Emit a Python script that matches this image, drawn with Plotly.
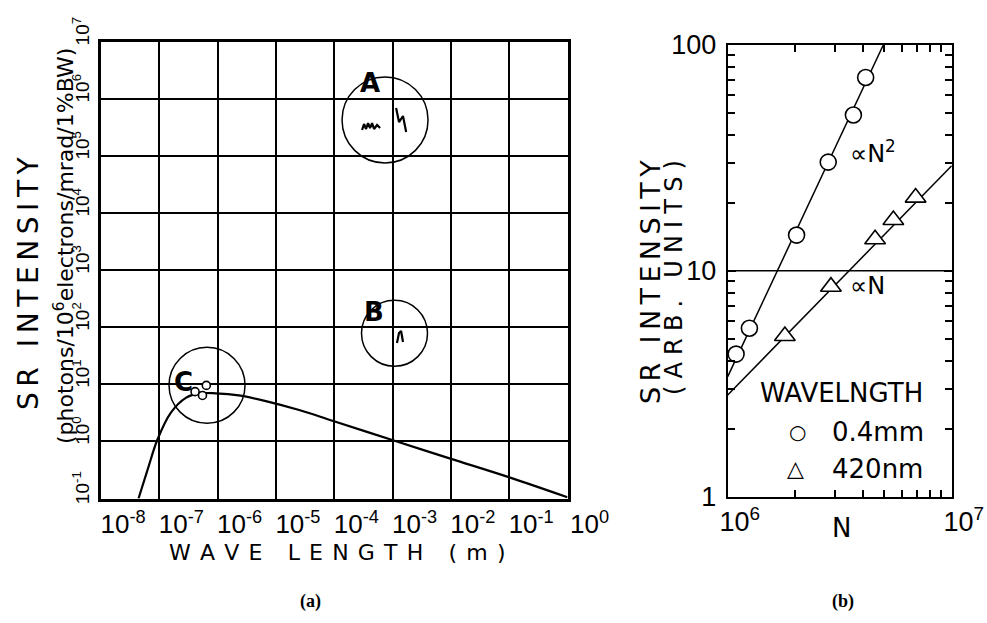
import math
import plotly.graph_objects as go

# ---------------- data: panel (a) ----------------
wl_curve = [4.4e-8, 6.3e-8, 9.3e-8, 1.58e-7, 2.85e-7, 4.8e-7, 9.3e-7, 2.3e-6,
            6.7e-6, 2.5e-5, 9.6e-5, 1.05e-3, 9.8e-3, 9.8e-2, 1.0]
int_curve = [0.1, 0.32, 1.08, 3.2, 5.8, 6.95, 6.95, 6.4,
             5.1, 3.55, 2.28, 1.04, 0.50, 0.237, 0.105]

wl_c_pts = [4.1e-7, 5.5e-7, 6.4e-7]
int_c_pts = [7.45, 6.4, 9.6]

wl_a1 = [3.0e-4, 3.24e-4, 3.51e-4, 3.80e-4, 4.11e-4, 4.45e-4, 4.82e-4, 5.42e-4, 6.11e-4]
int_a1 = [2.87e5, 3.66e5, 2.99e5, 3.80e5, 3.11e5, 3.80e5, 2.99e5, 3.51e5, 3.11e5]
wl_a2 = [1.15e-3, 1.29e-3, 1.51e-3, 1.71e-3]
int_a2 = [6.97e5, 3.96e5, 5.05e5, 2.65e5]
wl_b = [1.19e-3, 1.29e-3, 1.40e-3, 1.51e-3]
int_b = [53.1, 79.4, 86.1, 55.2]

region_names = ["A", "B", "C"]
region_wl = [7.43e-4, 1.08e-3, 6.58e-7]
region_int = [4.30e5, 78.5, 9.64]
region_radius = [43, 33, 38]
label_wl = [4.03e-4, 4.82e-4, 2.65e-7]
label_int = [1.95e6, 185.0, 11.0]

a_xrange = [-8, 0]
a_yrange = [-1, 7]
a_xtick_vals = [1e-8, 1e-7, 1e-6, 1e-5, 1e-4, 1e-3, 1e-2, 1e-1, 1e0]
a_xtick_text = ["10<sup>-8</sup>", "10<sup>-7</sup>", "10<sup>-6</sup>", "10<sup>-5</sup>",
                "10<sup>-4</sup>", "10<sup>-3</sup>", "10<sup>-2</sup>", "10<sup>-1</sup>",
                "10<sup>0</sup>"]
a_ytick_vals = [1e-1, 1e0, 1e1, 1e2, 1e3, 1e4, 1e5, 1e6, 1e7]
a_ytick_text = ["10<sup>-1</sup>", "10<sup>0</sup>", "10<sup>1</sup>", "10<sup>2</sup>",
                "10<sup>3</sup>", "10<sup>4</sup>", "10<sup>5</sup>", "10<sup>6</sup>",
                "10<sup>7</sup>"]

# ---------------- data: panel (b) ----------------
n_mm = [1.09e6, 1.25e6, 2.03e6, 2.81e6, 3.64e6, 4.13e6]
i_mm = [4.28, 5.57, 14.4, 30.3, 49.0, 71.8]
n_nm = [1.80e6, 2.89e6, 4.55e6, 5.49e6, 6.90e6]
i_nm = [5.15, 8.51, 13.8, 16.8, 21.1]
fit_n2_x = [1e6, 4.95e6]
fit_n2_y = [3.4, 100]
fit_n1_x = [1e6, 1e7]
fit_n1_y = [2.82, 29.2]

b_xtick_vals = [1e6, 1e7]
b_xtick_text = ["10<sup>6</sup>", "10<sup>7</sup>"]
b_xminor_vals = [2e6, 3e6, 4e6, 5e6, 6e6, 7e6, 8e6, 9e6]
b_ytick_vals = [1, 10, 100]
b_ytick_text = ["1", "10", "100"]
b_yminor_vals = [2, 3, 4, 5, 6, 7, 8, 9, 20, 30, 40, 50, 60, 70, 80, 90]

series_names = ["0.4mm", "420nm"]

TICKFONT = "Liberation Sans Narrow, Liberation Sans, Arial, sans-serif"
TITLEFONT = "DejaVu Sans, Verdana, sans-serif"
HS = "\u200a"  # hair space for letter spacing
NB = "\u00a0"


def spaced(s, sep=HS + HS):
    return sep.join(list(s))


fig = go.Figure()

# panel (a)
fig.add_trace(go.Scatter(x=wl_curve, y=int_curve, mode="lines", line=dict(color="black", width=2.2, shape="spline"),
                         xaxis="x", yaxis="y", showlegend=False, hoverinfo="skip"))
for wx, wy in [(wl_a1, int_a1), (wl_a2, int_a2), (wl_b, int_b)]:
    fig.add_trace(go.Scatter(x=wx, y=wy, mode="lines", line=dict(color="black", width=2.2),
                             xaxis="x", yaxis="y", showlegend=False, hoverinfo="skip"))
fig.add_trace(go.Scatter(x=wl_c_pts, y=int_c_pts, mode="markers",
                         marker=dict(symbol="circle", size=8, color="white", line=dict(color="black", width=1.6)),
                         xaxis="x", yaxis="y", showlegend=False))

# panel (b)
fig.add_trace(go.Scatter(x=fit_n2_x, y=fit_n2_y, mode="lines", line=dict(color="black", width=1.5),
                         xaxis="x2", yaxis="y2", showlegend=False, hoverinfo="skip"))
fig.add_trace(go.Scatter(x=fit_n1_x, y=fit_n1_y, mode="lines", line=dict(color="black", width=1.5),
                         xaxis="x2", yaxis="y2", showlegend=False, hoverinfo="skip"))
fig.add_trace(go.Scatter(x=n_mm, y=i_mm, mode="markers", name=series_names[0],
                         marker=dict(symbol="circle", size=16, color="white", line=dict(color="black", width=1.6)),
                         xaxis="x2", yaxis="y2", showlegend=False))
fig.add_trace(go.Scatter(x=n_nm, y=i_nm, mode="markers", name=series_names[1],
                         marker=dict(symbol="triangle-up", size=18, color="white", line=dict(color="black", width=1.6)),
                         xaxis="x2", yaxis="y2", showlegend=False))

shapes = []
for wl, it, r in zip(region_wl, region_int, region_radius):
    fx = (math.log10(wl) - a_xrange[0]) / (a_xrange[1] - a_xrange[0])
    fy = (math.log10(it) - a_yrange[0]) / (a_yrange[1] - a_yrange[0])
    shapes.append(dict(type="circle", xref="x domain", yref="y domain", xsizemode="pixel", ysizemode="pixel",
                       xanchor=fx, yanchor=fy, x0=-r, x1=r, y0=-r, y1=r,
                       line=dict(color="black", width=1.5)))
# horizontal line at 10 in panel (b)
shapes.append(dict(type="line", xref="x2 domain", yref="y2", x0=0, x1=1, y0=10, y1=10,
                   line=dict(color="black", width=1.5)))

annotations = []
for name, lx, ly in zip(region_names, label_wl, label_int):
    annotations.append(dict(x=math.log10(lx), y=math.log10(ly), xref="x", yref="y", text="<b>" + name + "</b>",
                            showarrow=False, font=dict(family=TITLEFONT, size=26, color="black"),
                            xanchor="center", yanchor="middle"))

# axis titles panel (a)
annotations.append(dict(x=28 / 987, y=1 - 283 / 623, xref="paper", yref="paper",
                        text=spaced("SR INTENSITY"), textangle=-90, showarrow=False,
                        font=dict(family=TITLEFONT, size=28, color="black"), xanchor="center", yanchor="middle"))
annotations.append(dict(x=64 / 987, y=1 - 246 / 623, xref="paper", yref="paper",
                        text="(photons/10<sup>6</sup>electrons/mrad/1%BW)", textangle=-90, showarrow=False,
                        font=dict(family=TITLEFONT, size=22, color="black"), xanchor="center", yanchor="middle"))
annotations.append(dict(x=337 / 987, y=1 - 552 / 623, xref="paper", yref="paper",
                        text=(NB + HS).join(["W", "A", "V", "E", NB, "L", "E", "N", "G", "T", "H", NB, "(", "m", ")"]),
                        showarrow=False, font=dict(family=TITLEFONT, size=22, color="black"),
                        xanchor="center", yanchor="middle"))

# axis titles panel (b)
annotations.append(dict(x=650 / 987, y=1 - 282 / 623, xref="paper", yref="paper",
                        text=spaced("SR INTENSITY"), textangle=-90, showarrow=False,
                        font=dict(family=TITLEFONT, size=27, color="black"), xanchor="center", yanchor="middle"))
annotations.append(dict(x=674 / 987, y=1 - 278 / 623, xref="paper", yref="paper",
                        text=spaced("(ARB. UNITS)", HS * 3), textangle=-90, showarrow=False,
                        font=dict(family=TITLEFONT, size=24, color="black"), xanchor="center", yanchor="middle"))
annotations.append(dict(x=841 / 987, y=1 - 528 / 623, xref="paper", yref="paper", text="N",
                        showarrow=False, font=dict(family=TITLEFONT, size=26, color="black"),
                        xanchor="center", yanchor="middle"))

# proportionality labels
annotations.append(dict(x=6.537, y=1.527, xref="x2", yref="y2", text="\u221dN<sup>2</sup>", showarrow=False,
                        font=dict(family=TITLEFONT, size=24, color="black"), xanchor="left", yanchor="middle"))
annotations.append(dict(x=6.537, y=0.933, xref="x2", yref="y2", text="\u221dN", showarrow=False,
                        font=dict(family=TITLEFONT, size=24, color="black"), xanchor="left", yanchor="middle"))

# legend (drawn as text)
annotations.append(dict(x=758 / 987, y=1 - 393 / 623, xref="paper", yref="paper", text="WAVELNGTH",
                        showarrow=False, font=dict(family=TITLEFONT, size=26, color="black"),
                        xanchor="left", yanchor="middle"))
annotations.append(dict(x=797 / 987, y=1 - 432 / 623, xref="paper", yref="paper", text="\u25cb",
                        showarrow=False, font=dict(family=TITLEFONT, size=20, color="black"),
                        xanchor="center", yanchor="middle"))
annotations.append(dict(x=830 / 987, y=1 - 432 / 623, xref="paper", yref="paper", text=series_names[0],
                        showarrow=False, font=dict(family=TITLEFONT, size=26, color="black"),
                        xanchor="left", yanchor="middle"))
annotations.append(dict(x=795 / 987, y=1 - 469 / 623, xref="paper", yref="paper", text="\u25b3",
                        showarrow=False, font=dict(family=TITLEFONT, size=22, color="black"),
                        xanchor="center", yanchor="middle"))
annotations.append(dict(x=830 / 987, y=1 - 469 / 623, xref="paper", yref="paper", text=series_names[1],
                        showarrow=False, font=dict(family=TITLEFONT, size=26, color="black"),
                        xanchor="left", yanchor="middle"))

# panel captions
annotations.append(dict(x=310 / 987, y=1 - 601 / 623, xref="paper", yref="paper", text="<b>(a)</b>",
                        showarrow=False, font=dict(family="Liberation Serif, DejaVu Serif, serif", size=18, color="black"),
                        xanchor="center", yanchor="middle"))
annotations.append(dict(x=843 / 987, y=1 - 601 / 623, xref="paper", yref="paper", text="<b>(b)</b>",
                        showarrow=False, font=dict(family="Liberation Serif, DejaVu Serif, serif", size=18, color="black"),
                        xanchor="center", yanchor="middle"))

fig.update_layout(
    width=987, height=623,
    margin=dict(l=0, r=0, t=0, b=0, pad=0, autoexpand=False),
    paper_bgcolor="white", plot_bgcolor="white",
    showlegend=False,
    shapes=shapes, annotations=annotations,
    xaxis=dict(type="log", range=a_xrange, domain=[101 / 987, 567.5 / 987], anchor="y", automargin=False,
               tickvals=a_xtick_vals, ticktext=a_xtick_text, ticks="", showgrid=True, tickangle=0,
               gridcolor="black", gridwidth=2.2, showline=True, linecolor="black", linewidth=2.5, mirror=True,
               tickfont=dict(family=TICKFONT, size=26, color="black"), ticklabelshift=22, ticklabelstandoff=1,
               zeroline=False),
    yaxis=dict(type="log", range=a_yrange, domain=[(623 - 498.5) / 623, (623 - 42) / 623], anchor="x",
               automargin=False,
               tickvals=a_ytick_vals, ticktext=a_ytick_text, ticks="", showgrid=True, tickangle=-90,
               gridcolor="black", gridwidth=2.2, showline=True, linecolor="black", linewidth=2.5, mirror=True,
               tickfont=dict(family=TICKFONT, size=19, color="black"), ticklabelshift=-8, ticklabelstandoff=2,
               zeroline=False),
    xaxis2=dict(type="log", range=[6, 7], domain=[727.7 / 987, 951.7 / 987], anchor="y2", automargin=False,
                tickvals=b_xtick_vals, ticktext=b_xtick_text, ticks="inside", ticklen=8, tickwidth=1.5,
                tickcolor="black", showgrid=False, showline=True, linecolor="black", linewidth=2, mirror="ticks",
                tickangle=0,
                minor=dict(tickvals=b_xminor_vals, ticks="inside", ticklen=7, tickwidth=1.5, tickcolor="black",
                           showgrid=False),
                tickfont=dict(family=TICKFONT, size=27, color="black"), ticklabelshift=12, zeroline=False),
    yaxis2=dict(type="log", range=[0, 2], domain=[(623 - 496.7) / 623, (623 - 45) / 623], anchor="x2",
                automargin=False,
                tickvals=b_ytick_vals, ticktext=b_ytick_text, ticks="inside", ticklen=8, tickwidth=1.5,
                tickcolor="black", showgrid=False, showline=True, linecolor="black", linewidth=2, mirror="ticks",
                tickangle=0,
                minor=dict(tickvals=b_yminor_vals, ticks="inside", ticklen=7, tickwidth=1.5, tickcolor="black",
                           showgrid=False),
                tickfont=dict(family=TICKFONT, size=27, color="black"), ticklabelstandoff=4, zeroline=False),
)

fig.write_html("out.html", config={"displayModeBar": False},
               post_script="document.body.style.margin='0px';")
